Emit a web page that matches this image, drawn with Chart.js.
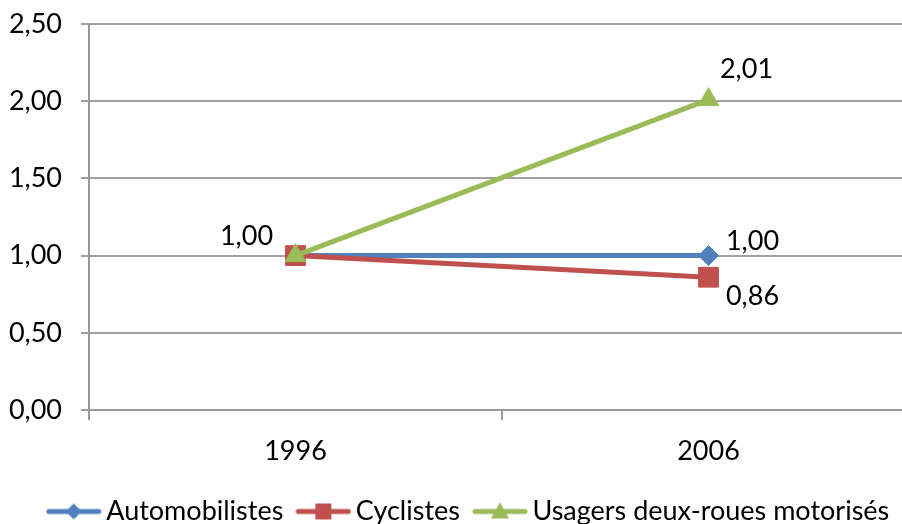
<!DOCTYPE html>
<html>
<head>
<meta charset="utf-8">
<script src="https://cdn.jsdelivr.net/npm/chart.js@4/dist/chart.umd.min.js"></script>
<style>
  html, body { margin: 0; padding: 0; background: #fff; overflow: hidden; }
  #wrap { width: 902px; height: 524px; overflow: hidden; position: relative; }
  canvas { display: block; }
</style>
</head>
<body>
<div id="wrap"><canvas id="c" width="944" height="535"></canvas></div>
<script>
// ---- data ----
const categories = ['1996', '2006'];
const seriesNames = ['Automobilistes', 'Cyclistes', 'Usagers deux-roues motorisés'];
const automobilistes = [1.00, 1.00];
const cyclistes = [1.00, 0.86];
const usagersDeuxRoues = [1.00, 2.01];
const yTickValues = [0, 0.5, 1.0, 1.5, 2.0, 2.5];

const FONT = 'Lato, "Open Sans", sans-serif';
const FS = 27;
const colors = ['#4F81BD', '#C0504D', '#9BBB59'];
const styles = ['rectRot', 'rect', 'triangle'];
const radii = [10, 14, 12];

function fmt(v) { return v.toFixed(2).replace('.', ','); }

function legendIcon(color, style) {
  const cv = document.createElement('canvas');
  cv.width = 56; cv.height = 22;
  const ctx = cv.getContext('2d');
  ctx.strokeStyle = color; ctx.lineWidth = 5; ctx.lineCap = 'round';
  ctx.beginPath(); ctx.moveTo(3, 11); ctx.lineTo(53, 11); ctx.stroke();
  ctx.fillStyle = color;
  ctx.beginPath();
  if (style === 'rectRot') {
    ctx.moveTo(28, 3); ctx.lineTo(36, 11); ctx.lineTo(28, 19); ctx.lineTo(20, 11); ctx.closePath();
  } else if (style === 'rect') {
    ctx.rect(20, 3, 16, 16);
  } else {
    ctx.moveTo(28, 2); ctx.lineTo(37, 18); ctx.lineTo(19, 18); ctx.closePath();
  }
  ctx.fill();
  return cv;
}

const seriesData = [automobilistes, cyclistes, usagersDeuxRoues];
const datasets = seriesNames.map((name, i) => ({
  label: name,
  data: seriesData[i],
  borderColor: colors[i],
  backgroundColor: colors[i],
  pointBackgroundColor: colors[i],
  pointBorderColor: colors[i],
  pointStyle: styles[i],
  pointRadius: radii[i],
  pointBorderWidth: 1,
  borderWidth: 5,
  tension: 0,
  order: 2 - i
}));

// labels: [datasetIndex, pointIndex, dx, dy(baseline)]
const labelSpecs = [
  [2, 0, -49, -11],
  [2, 1, 38, -22],
  [0, 1, 44, -6],
  [1, 1, 44, 28]
];

const valueLabels = {
  id: 'valueLabels',
  afterDatasetsDraw(chart) {
    const ctx = chart.ctx;
    ctx.save();
    ctx.font = FS + 'px ' + FONT;
    ctx.fillStyle = '#000';
    ctx.textAlign = 'center';
    ctx.textBaseline = 'alphabetic';
    labelSpecs.forEach(([d, p, dx, dy]) => {
      const el = chart.getDatasetMeta(d).data[p];
      const v = chart.data.datasets[d].data[p];
      ctx.fillText(fmt(v), el.x + dx, el.y + dy);
    });
    ctx.restore();
  }
};

new Chart(document.getElementById('c'), {
  type: 'line',
  data: { labels: categories, datasets },
  options: {
    responsive: false,
    animation: false,
    devicePixelRatio: 1,
    layout: { padding: { top: 24, left: 0, right: 0, bottom: 0 } },
    plugins: {
      tooltip: { enabled: false },
      legend: {
        position: 'bottom',
        labels: {
          font: { family: FONT, size: FS },
          color: '#000',
          usePointStyle: true,
          pointStyleWidth: 38,
          padding: 21,
          generateLabels(chart) {
            return chart.data.datasets.map((ds, i) => ({
              text: ds.label,
              fillStyle: colors[i],
              strokeStyle: colors[i],
              lineWidth: 0,
              pointStyle: legendIcon(colors[i], styles[i]),
              hidden: false,
              datasetIndex: i,
              fontColor: '#000'
            }));
          }
        }
      }
    },
    scales: {
      x: {
        offset: true,
        grid: {
          offset: true,
          drawOnChartArea: false,
          drawTicks: true,
          tickLength: 10,
          color: '#999',
          lineWidth: 2
        },
        border: { display: true, color: '#999', width: 2 },
        ticks: { font: { family: FONT, size: FS }, color: '#000', padding: 15, maxRotation: 0 },
        afterFit(s) { s.height = 67; s.paddingLeft = 0; s.paddingRight = 0; }
      },
      y: {
        min: 0,
        max: 2.5,
        afterBuildTicks(s) { s.ticks = yTickValues.map(v => ({ value: v })); },
        grid: { color: '#a0a0a0', lineWidth: 2, tickLength: 8, drawTicks: true },
        border: { display: true, color: '#999', width: 2 },
        ticks: {
          font: { family: FONT, size: FS },
          color: '#000',
          padding: 19,
          callback: (v) => fmt(v)
        },
        afterFit(s) { s.width = 89; s.paddingTop = 0; s.paddingBottom = 0; }
      },
      yPad: {
        position: 'right',
        display: true,
        grid: { display: false },
        border: { display: false },
        ticks: { display: false },
        afterFit(s) { s.width = 29; s.paddingTop = 0; s.paddingBottom = 0; }
      }
    }
  },
  plugins: [valueLabels]
});
</script>
</body>
</html>
